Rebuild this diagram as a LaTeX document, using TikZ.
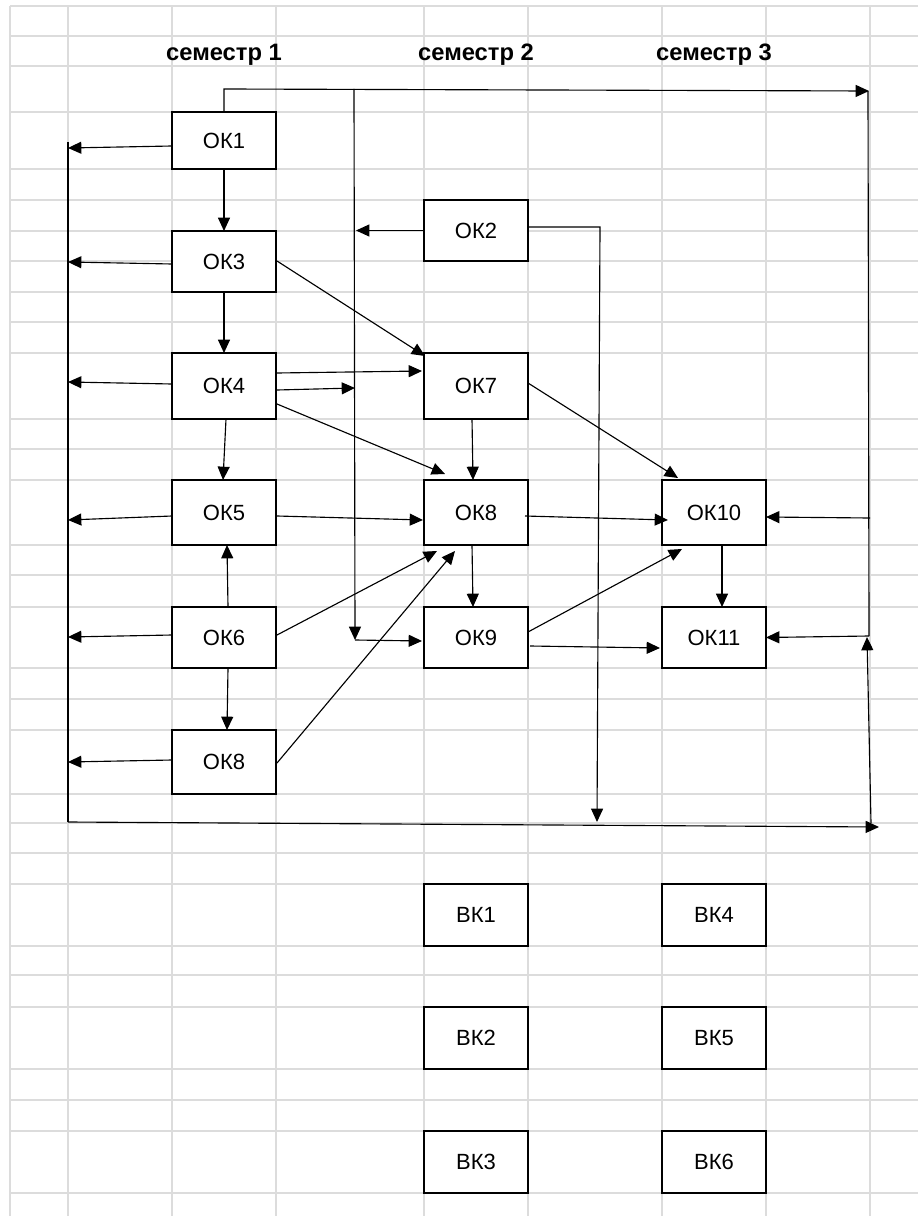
\documentclass[tikz,border=0pt]{standalone}
\usepackage{fontspec}
\setmainfont{Liberation Sans}
\usetikzlibrary{arrows.meta,calc}
\definecolor{gridc}{RGB}{220,220,220}
\tikzset{
  gridline/.style={draw=gridc, line width=0.8pt},
  box/.style={draw=black, line width=1.9pt, fill=white, minimum width=78pt,
     inner sep=0pt, outer sep=0pt, font=\fontsize{16.5}{18}\selectfont},
  conn/.style={draw=black, line width=0.85pt},
  arr/.style={conn, -{Triangle[length=10pt,width=9pt]}},
  head/.style={anchor=base, font=\fontsize{17.8}{19}\selectfont\bfseries}
}
\begin{document}
\begin{tikzpicture}[x=0.75pt,y=-0.75pt]
\useasboundingbox (0,0) rectangle (918,1216);
\fill[white] (0,0) rectangle (918,1216);
% spreadsheet grid
\foreach \x in {10,68,172,276,424,528,662,766,870}
  \draw[gridline] (\x,6) -- (\x,1216);
\foreach \y in {6,36,66,112,169,200,231,261,292,322,353,419,449,480,545,575,607,668,699,730,794,823,853,884,946,975,1007,1069,1100,1131,1193}
  \draw[gridline] (10,\y) -- (918,\y);
% headers
\node[head] (h1) at (224,61) {семестр 1};
\node[head] (h2) at (476,61) {семестр 2};
\node[head] (h3) at (714,61) {семестр 3};
% free ends
\coordinate (topL) at (224,89);
\coordinate (topR) at (869,91);
\coordinate (midTop) at (354,89);
\coordinate (midBot) at (355,640);
\coordinate (busTop) at (68,142);
\coordinate (busBot) at (68,822);
\coordinate (botEnd) at (879,827);
\coordinate (rTop) at (868,91);
\coordinate (r10) at (870,518);
\coordinate (r11) at (869,636);
\coordinate (upStart) at (871,823);
\coordinate (upEnd) at (867,637);
\coordinate (ok2turn) at (600,227);
\coordinate (ok2end) at (597,822);
% boxes
\node[box, minimum height=42.75pt] (ok1) at (224,140.5) {ОК1};
\node[box, minimum height=45.75pt] (ok3) at (224,261.5) {ОК3};
\node[box, minimum height=49.5pt] (ok4) at (224,386) {ОК4};
\node[box, minimum height=48.75pt] (ok5) at (224,512.5) {ОК5};
\node[box, minimum height=45.75pt] (ok6) at (224,637.5) {ОК6};
\node[box, minimum height=48pt] (ok8l) at (224,762) {ОК8};
\node[box, minimum height=45.75pt] (ok2) at (476,230.5) {ОК2};
\node[box, minimum height=49.5pt] (ok7) at (476,386) {ОК7};
\node[box, minimum height=48.75pt] (ok8m) at (476,512.5) {ОК8};
\node[box, minimum height=45.75pt] (ok9) at (476,637.5) {ОК9};
\node[box, minimum height=48.75pt] (ok10) at (714,512.5) {ОК10};
\node[box, minimum height=45.75pt] (ok11) at (714,637.5) {ОК11};
\node[box, minimum height=46.5pt] (bk1) at (476,915) {ВК1};
\node[box, minimum height=46.5pt] (bk2) at (476,1038) {ВК2};
\node[box, minimum height=46.5pt] (bk3) at (476,1162) {ВК3};
\node[box, minimum height=46.5pt] (bk4) at (714,915) {ВК4};
\node[box, minimum height=46.5pt] (bk5) at (714,1038) {ВК5};
\node[box, minimum height=46.5pt] (bk6) at (714,1162) {ВК6};
% buses
\draw[arr] (ok1.north) -- (topL) -- (topR);
\draw[conn] (rTop) -- (r11);
\draw[arr] (midTop) -- (midBot);
\draw[arr] (midBot) -- ($(ok9.west)+(-2,3.5)$);
\draw[conn] (busTop) -- (busBot);
\draw[arr] (busBot) -- (botEnd);
\draw[arr] (upStart) -- (upEnd);
\draw[arr] (r10) -- ($(ok10.east)+(0,4.5)$);
\draw[arr] (r11) -- (ok11.east);
% OK2
\draw[arr] (ok2.west) -- ($(ok2.west)+(-68,0)$);
\draw[arr] ($(ok2.east)+(0,-3.5)$) -- (ok2turn) -- (ok2end);
% column 1 verticals
\draw[arr] (ok1.south) -- (ok3.north);
\draw[arr] (ok3.south) -- (ok4.north);
\draw[arr] ($(ok4.south)+(2,0)$) -- ($(ok5.north)+(-1,0)$);
\draw[arr] ($(ok6.north)+(4,0)$) -- ($(ok5.south)+(3,0)$);
\draw[arr] ($(ok6.south)+(4,0)$) -- ($(ok8l.north)+(3,0)$);
% left arrows
\draw[arr] ($(ok1.west)+(0,5.5)$) -- ($(ok1.west)+(-104,7.5)$);
\draw[arr] ($(ok3.west)+(0,2.5)$) -- ($(ok3.west)+(-104,0.5)$);
\draw[arr] ($(ok4.west)+(0,-2)$) -- ($(ok4.west)+(-104,-4)$);
\draw[arr] ($(ok5.west)+(0,3.5)$) -- ($(ok5.west)+(-104,7.5)$);
\draw[arr] ($(ok6.west)+(0,-2.5)$) -- ($(ok6.west)+(-104,-0.5)$);
\draw[arr] ($(ok8l.west)+(0,-2)$) -- ($(ok8l.west)+(-104,0)$);
% diagonals and others
\draw[arr] ($(ok3.east)+(1,-0.5)$) -- ($(ok7.north west)+(1,3)$);
\draw[arr] ($(ok4.east)+(1,-13)$) -- ($(ok7.west)+(-2,-15)$);
\draw[arr] ($(ok4.east)+(1,4)$) -- ($(ok4.east)+(79,2)$);
\draw[arr] ($(ok4.east)+(1,18)$) -- ($(ok8m.north west)+(21,-6)$);
\draw[arr] ($(ok7.south)+(-4,0)$) -- ($(ok8m.north)+(-3,0)$);
\draw[arr] ($(ok7.east)+(0,-3)$) -- ($(ok10.north west)+(16,-2)$);
\draw[arr] ($(ok5.east)+(1,3.5)$) -- ($(ok8m.west)+(-1,7.5)$);
\draw[arr] ($(ok8m.east)+(-3,3.5)$) -- ($(ok10.west)+(6,7.5)$);
\draw[arr] ($(ok8m.south)+(-4,0)$) -- ($(ok9.north)+(-3,0)$);
\draw[arr] ($(ok10.south)+(8,0)$) -- ($(ok11.north)+(8,0)$);
\draw[arr] ($(ok9.east)+(0,-5.5)$) -- ($(ok10.south west)+(20,4)$);
\draw[arr] ($(ok9.east)+(2,8.5)$) -- ($(ok11.west)+(-2,10.5)$);
\draw[arr] ($(ok6.east)+(1,-2.5)$) -- ($(ok8m.south west)+(13,6)$);
\draw[arr] ($(ok8l.east)+(1,1)$) -- ($(ok8m.south west)+(31,6)$);
\end{tikzpicture}
\end{document}
